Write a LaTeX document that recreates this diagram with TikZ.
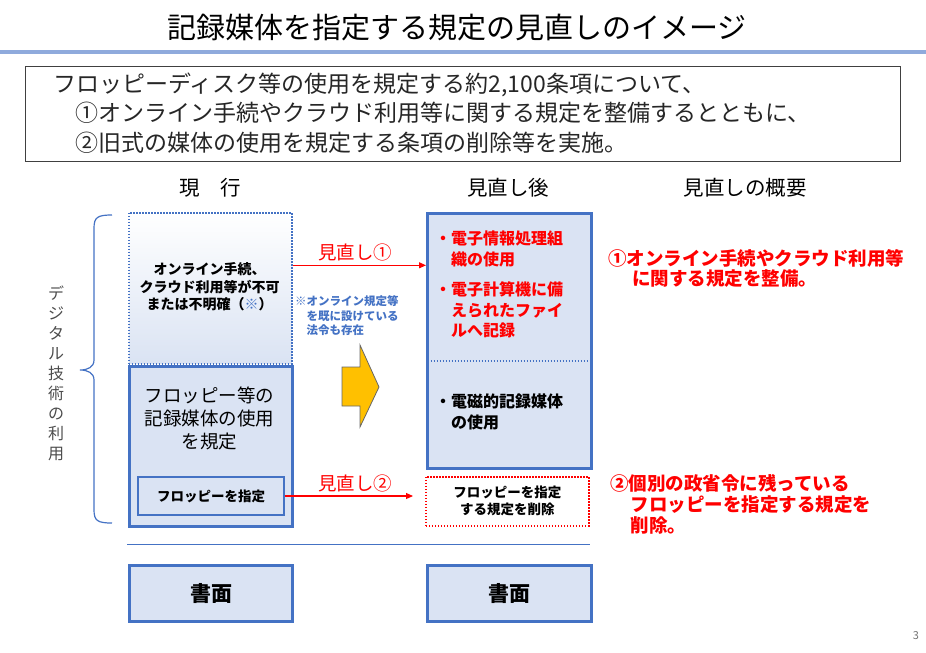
\documentclass[tikz,border=0pt]{standalone}
\usepackage{fontspec}
\setmainfont{Noto Sans CJK JP}
\usetikzlibrary{arrows.meta,calc}
\definecolor{bblue}{HTML}{4472C4}
\definecolor{lblue}{HTML}{DAE3F3}
\definecolor{tline}{HTML}{8FAADC}
\definecolor{rred}{HTML}{FF0000}
\definecolor{gold}{HTML}{FFC000}
\newcommand\fsz[2]{\fontsize{#1}{#2}\selectfont}
\begin{document}
\begin{tikzpicture}[x=1pt,y=-1pt,
  every node/.style={inner sep=0pt},
  solidbox/.style={draw=bblue,line width=3pt,fill=lblue,anchor=north west},
  dotline/.style={dash pattern=on 1.5pt off 1.5pt},
  redarrow/.style={draw=rred,line width=1.1pt,-{Triangle[length=7pt,width=6pt]}},
  redlabel/.style={text=rred,font=\fsz{18.5}{20}},
  header/.style={font=\fsz{20.5}{22}},
]
\useasboundingbox (0,0) rectangle (926,653);
% title
\node[font=\fsz{29}{30}] (title) at (457,28) {記録媒体を指定する規定の見直しのイメージ};
\draw[tline,line width=3.5pt] (0,52) -- (926,52);
% summary box
\node[draw=black!75,line width=1.2pt,minimum width=875,minimum height=95,anchor=north west] (sumbox) at (25,66) {};
\node[anchor=west,align=left,text=black!85,font=\fsz{23}{29.5}] (sumtxt) at (53,113)
  {フロッピーディスク等の使用を規定する約2,100条項について、\\
   \hspace{22pt}①オンライン手続やクラウド利用等に関する規定を整備するとともに、\\
   \hspace{22pt}②旧式の媒体の使用を規定する条項の削除等を実施。};
% headers
\node[header] (h1) at (210,188) {現\hspace{1em}行};
\node[header] (h2) at (508,188) {見直し後};
\node[header] (h3) at (745,188) {見直しの概要};
% brace and vertical label
\draw[bblue,line width=1.2pt] (112,215) .. controls (98,215) and (94,217) .. (94,228) -- (94,360)
  .. controls (94,367) and (88,370) .. (80,370) .. controls (88,370) and (94,373) .. (94,380)
  -- (94,510) .. controls (94,521) and (98,523) .. (112,523);
\node[align=center,text=black!70,font=\fsz{16}{20}] (vlabel) at (56,373)
  {デ\\ジ\\タ\\ル\\技\\術\\の\\利\\用};
% current column
\node[anchor=north west,minimum width=163,minimum height=151,top color=white,bottom color=lblue,
  draw=bblue,line width=1.6pt,dotline] (online) at (128,212) {};
\node[solidbox,minimum width=163,minimum height=160] (floppy) at (128,365) {};
\node[align=center,font=\bfseries\fsz{14}{17.5}] (onlinetxt) at (209.5,287)
  {オンライン手続、\\クラウド利用等が不可\\または不明確（\textcolor{bblue}{※}）};
\node[align=center,font=\fsz{18.5}{23}] (floppytxt) at (209.5,418)
  {フロッピー等の\\記録媒体の使用\\を規定};
\node[anchor=north west,draw=bblue,line width=2pt,fill=lblue,minimum width=146,minimum height=38,
  font=\bfseries\fsz{13.5}{16}] (fspec) at (137,476) {フロッピーを指定};
% note
\node[anchor=west,align=left,text=bblue,font=\bfseries\fsz{11.5}{14.5}] (note) at (295,316)
  {※オンライン規定等\\\hspace{11.5pt}を既に設けている\\\hspace{11.5pt}法令も存在};
% block arrow
\draw[fill=gold,draw=black!60,line width=0.8pt] (342,367) -- (360,367) -- (360,345) -- (379,387)
  -- (360,427) -- (360,406) -- (342,406) -- cycle;
% after column
\node[solidbox,minimum width=164,minimum height=255] (after) at (426,212) {};
\draw[bblue,line width=2pt,dotline] ($(after.west |- 0,361)+(1.5,0)$) -- ($(after.east |- 0,361)+(-1.5,0)$);
\node[anchor=west,align=left,text=rred,font=\bfseries\fsz{16}{20.5}] (a1) at (435,249)
  {・電子情報処理組\\\hspace{1em}織の使用};
\node[anchor=west,align=left,text=rred,font=\bfseries\fsz{16}{20.5}] (a2) at (435,310)
  {・電子計算機に備\\\hspace{1em}えられたファイ\\\hspace{1em}ルへ記録};
\node[anchor=west,align=left,font=\bfseries\fsz{16}{20.5}] (a3) at (435,412)
  {・電磁的記録媒体\\\hspace{1em}の使用};
\node[anchor=north west,draw=rred,line width=1.6pt,dotline,minimum width=163,minimum height=49,
  align=center,font=\bfseries\fsz{13.5}{17}] (del) at (425,476) {フロッピーを指定\\する規定を削除};
% arrows
\draw[redarrow] ([yshift=23pt]online.east) -- ([yshift=23pt]online.east -| after.west);
\node[redlabel] (lab1) at (355,252) {見直し①};
\draw[redarrow,shorten >=12pt] (fspec.east) -- (fspec.east -| del.west);
\node[redlabel] (lab2) at (355,483) {見直し②};
% summaries
\node[anchor=west,align=left,text=rred,font=\bfseries\fsz{18.5}{20}] (s1) at (608,268)
  {①オンライン手続やクラウド利用等\\\hspace{1.3em}に関する規定を整備。};
\node[anchor=west,align=left,text=rred,font=\bfseries\fsz{18.5}{21}] (s2) at (610,504)
  {②個別の政省令に残っている\\\hspace{1.1em}フロッピーを指定する規定を\\\hspace{1.1em}削除。};
% bottom
\draw[bblue,line width=1pt] (127,544) -- (590,544);
\node[solidbox,minimum width=163,minimum height=56,font=\bfseries\fsz{21}{22}] (paper1) at (128,564) {書面};
\node[solidbox,minimum width=164,minimum height=56,font=\bfseries\fsz{21}{22}] (paper2) at (426,564) {書面};
\node[text=black!55,font=\fsz{11}{12}] (pnum) at (916,636) {3};
\end{tikzpicture}
\end{document}
